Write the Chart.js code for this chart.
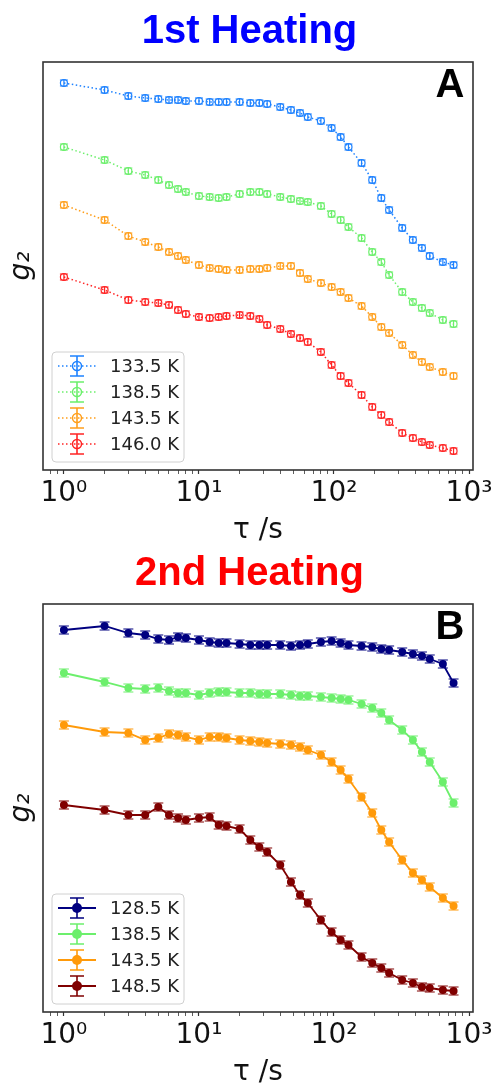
<!DOCTYPE html>
<html>
<head>
<meta charset="utf-8">
<script src="https://cdn.jsdelivr.net/npm/chart.js@4.4.1/dist/chart.umd.min.js"></script>
<style>
  html, body { margin: 0; padding: 0; background: #fff; }
  #wrap { width: 499px; height: 1084px; }
  canvas { display: block; }
</style>
</head>
<body>
<div id="wrap">
  <canvas id="chart-chauffe1" width="499" height="542"></canvas>
  <canvas id="chart-chauffe2" width="499" height="542"></canvas>
</div>
<script>
// Temps de corrélation tau (s), grille multi-tau
const tau = [1, 2, 3, 4, 5, 6, 7, 8, 10, 12, 14, 16, 20, 24, 28, 32, 40, 48, 56, 64,
  80, 96, 112, 128, 160, 192, 224, 256, 320, 384, 448, 512, 640, 768];

// Graduations de l'axe x
const xTickValues = [1, 10, 100, 1000];
const xTickLabels = ['10⁰', '10¹', '10²', '10³'];

// 1re chauffe : g2 (courbes décalées)
const labelsChauffe1 = ['133.5 K', '138.5 K', '143.5 K', '146.0 K'];
const couleursChauffe1 = ['#1e82ff', '#6cef6c', '#ff9f1c', '#ff2424'];
const g2_133_5 = [1.387, 1.380, 1.374, 1.372, 1.371, 1.370, 1.370, 1.369, 1.369, 1.368, 1.368, 1.368, 1.368, 1.367, 1.367, 1.366, 1.363, 1.360, 1.357, 1.353, 1.349, 1.342, 1.333, 1.323, 1.307, 1.290, 1.272, 1.260, 1.242, 1.230, 1.222, 1.214, 1.208, 1.205];
const g2_138_5a = [1.323, 1.310, 1.299, 1.295, 1.290, 1.285, 1.281, 1.278, 1.274, 1.273, 1.272, 1.273, 1.276, 1.278, 1.278, 1.276, 1.273, 1.271, 1.269, 1.268, 1.264, 1.256, 1.250, 1.243, 1.232, 1.218, 1.208, 1.195, 1.178, 1.168, 1.162, 1.157, 1.150, 1.146];
const g2_143_5a = [1.265, 1.250, 1.234, 1.228, 1.223, 1.218, 1.214, 1.210, 1.205, 1.202, 1.201, 1.200, 1.200, 1.201, 1.201, 1.202, 1.204, 1.204, 1.197, 1.191, 1.187, 1.183, 1.178, 1.172, 1.164, 1.153, 1.143, 1.137, 1.125, 1.115, 1.108, 1.103, 1.098, 1.094];
const g2_146_0 = [1.193, 1.180, 1.170, 1.168, 1.167, 1.165, 1.160, 1.156, 1.153, 1.152, 1.153, 1.154, 1.155, 1.154, 1.151, 1.145, 1.141, 1.136, 1.132, 1.128, 1.118, 1.105, 1.094, 1.087, 1.075, 1.063, 1.055, 1.048, 1.037, 1.032, 1.028, 1.025, 1.022, 1.019];
const errChauffe1 = [0.003, 0.003, 0.003, 0.003];

// 2e chauffe
const labelsChauffe2 = ['128.5 K', '138.5 K', '143.5 K', '148.5 K'];
const couleursChauffe2 = ['#000080', '#6cef6c', '#ff9a0a', '#800000'];
const g2_128_5 = [1.382, 1.386, 1.379, 1.377, 1.373, 1.372, 1.375, 1.374, 1.372, 1.370, 1.369, 1.369, 1.368, 1.367, 1.367, 1.367, 1.367, 1.366, 1.367, 1.368, 1.370, 1.371, 1.369, 1.367, 1.366, 1.365, 1.363, 1.362, 1.360, 1.358, 1.356, 1.353, 1.348, 1.329];
const g2_138_5b = [1.339, 1.330, 1.324, 1.323, 1.324, 1.321, 1.319, 1.319, 1.317, 1.319, 1.320, 1.320, 1.319, 1.319, 1.318, 1.318, 1.318, 1.317, 1.316, 1.316, 1.315, 1.314, 1.313, 1.312, 1.308, 1.304, 1.299, 1.292, 1.282, 1.272, 1.260, 1.250, 1.230, 1.209];
const g2_143_5b = [1.287, 1.280, 1.279, 1.272, 1.274, 1.278, 1.277, 1.275, 1.272, 1.275, 1.275, 1.274, 1.272, 1.271, 1.270, 1.269, 1.268, 1.267, 1.265, 1.262, 1.257, 1.250, 1.242, 1.233, 1.215, 1.199, 1.182, 1.170, 1.152, 1.139, 1.132, 1.125, 1.114, 1.106];
const g2_148_5 = [1.207, 1.202, 1.197, 1.197, 1.205, 1.197, 1.194, 1.192, 1.194, 1.195, 1.187, 1.186, 1.183, 1.172, 1.165, 1.160, 1.147, 1.130, 1.117, 1.109, 1.092, 1.080, 1.072, 1.067, 1.055, 1.049, 1.044, 1.039, 1.032, 1.029, 1.025, 1.024, 1.022, 1.021];
const errChauffe2 = [0.004, 0.004, 0.004, 0.004];

// Toutes les graduations log (majeures + mineures)
const xTicksAll = [];
[0.1, 1, 10, 100, 1000].forEach(dec => {
    for (let k = 1; k <= 9; k++) {
        const v = Math.round(k * dec * 100) / 100;
        if (v >= 0.72 && v <= 1070) xTicksAll.push(v);
    }
});

// Barres d'erreur verticales avec chapeaux
const barresErreur = {
    id: 'barresErreur',
    beforeDatasetsDraw(chart, args, o) {
        const { ctx, scales: { x, y } } = chart;
        ctx.save();
        chart.data.datasets.forEach((ds, i) => {
            const e = o.err[i];
            ctx.strokeStyle = ds.borderColor;
            ctx.lineWidth = o.width;
            ctx.setLineDash([]);
            ds.data.forEach(p => {
                const px = x.getPixelForValue(p.x);
                const yb = y.getPixelForValue(p.y - e);
                const yh = y.getPixelForValue(p.y + e);
                ctx.beginPath();
                ctx.moveTo(px, yb); ctx.lineTo(px, yh);
                ctx.moveTo(px - o.cap, yb); ctx.lineTo(px + o.cap, yb);
                ctx.moveTo(px - o.cap, yh); ctx.lineTo(px + o.cap, yh);
                ctx.stroke();
            });
        });
        ctx.restore();
    }
};

// Cadre, lettre du panneau et légende dans la zone du graphique
const habillage = {
    id: 'habillage',
    afterDraw(chart, args, o) {
        const { ctx, chartArea: a } = chart;
        ctx.save();
        ctx.strokeStyle = '#333';
        ctx.lineWidth = 1.6;
        ctx.strokeRect(a.left, a.top, a.width, a.height);

        ctx.fillStyle = '#000';
        ctx.font = 'bold 40px "Liberation Sans", Arial, sans-serif';
        ctx.textAlign = 'center';
        ctx.textBaseline = 'middle';
        ctx.fillText(o.lettre, a.right - 23, a.top + 24);

        // légende
        const w = 132, h = 110;
        const x0 = a.left + 9, y0 = a.bottom - 8 - h;
        ctx.beginPath();
        ctx.roundRect(x0, y0, w, h, 4);
        ctx.fillStyle = 'rgba(255,255,255,0.8)';
        ctx.fill();
        ctx.strokeStyle = '#d0d0d0';
        ctx.lineWidth = 1;
        ctx.stroke();

        chart.data.datasets.forEach((ds, i) => {
            const yy = y0 + 14 + i * 26;
            const cx = x0 + 25;
            ctx.strokeStyle = ds.borderColor;
            ctx.setLineDash(o.dash);
            ctx.lineWidth = o.ligne;
            ctx.beginPath();
            ctx.moveTo(x0 + 6, yy); ctx.lineTo(x0 + 44, yy);
            ctx.stroke();
            ctx.setLineDash([]);
            ctx.lineWidth = 1.6;
            ctx.beginPath();
            ctx.moveTo(cx, yy - 10); ctx.lineTo(cx, yy + 10);
            ctx.moveTo(cx - 7, yy - 10); ctx.lineTo(cx + 7, yy - 10);
            ctx.moveTo(cx - 7, yy + 10); ctx.lineTo(cx + 7, yy + 10);
            ctx.stroke();
            ctx.beginPath();
            ctx.arc(cx, yy, o.plein ? 5 : 4.5, 0, Math.PI * 2);
            if (o.plein) {
                ctx.fillStyle = ds.borderColor;
                ctx.fill();
            } else {
                ctx.lineWidth = 1.5;
                ctx.stroke();
            }
            ctx.fillStyle = '#222';
            ctx.font = '18px "DejaVu Sans", sans-serif';
            ctx.textAlign = 'left';
            ctx.textBaseline = 'middle';
            ctx.fillText(ds.label, x0 + 58, yy + 1);
        });
        ctx.restore();
    }
};

function creerGraphique(canvasId, titre, couleurTitre, labels, couleurs, series, err, style) {
    const datasets = series.map((vals, i) => ({
        label: labels[i],
        data: tau.map((t, k) => ({ x: t, y: vals[k] })),
        borderColor: couleurs[i],
        borderWidth: style.ligne,
        borderDash: style.dash,
        pointRadius: style.rayon,
        pointBorderWidth: style.plein ? 0 : 1.2,
        pointBorderColor: couleurs[i],
        pointBackgroundColor: style.plein ? couleurs[i] : 'rgba(0,0,0,0)',
        tension: 0,
        fill: false
    }));

    return new Chart(document.getElementById(canvasId), {
        type: 'line',
        data: { datasets },
        plugins: [barresErreur, habillage],
        options: {
            responsive: false,
            animation: false,
            layout: { padding: 0 },
            scales: {
                x: {
                    type: 'logarithmic',
                    min: 0.72,
                    max: 1070,
                    border: { display: false },
                    grid: {
                        drawOnChartArea: false,
                        drawTicks: true,
                        tickLength: 4,
                        tickColor: '#333',
                        tickWidth: (c) => (c.tick && c.tick.major ? 1.2 : 0.8)
                    },
                    afterBuildTicks(s) {
                        s.ticks = xTicksAll.map(v => ({ value: v, major: xTickValues.includes(v) }));
                    },
                    ticks: {
                        autoSkip: false,
                        maxRotation: 0,
                        padding: 3,
                        color: '#111',
                        font: { family: 'DejaVu Sans', size: 28 },
                        callback(v) {
                            const k = xTickValues.indexOf(v);
                            return k >= 0 ? xTickLabels[k] : '';
                        }
                    },
                    title: {
                        display: true,
                        text: 'τ /s',
                        color: '#111',
                        font: { family: 'DejaVu Sans', size: 28, lineHeight: 0.8 },
                        padding: { top: 0, bottom: 0 }
                    },
                    afterFit(s) { s.height = 72; }
                },
                y: {
                    type: 'linear',
                    min: 1.0,
                    max: 1.408,
                    border: { display: false },
                    grid: { display: false },
                    ticks: { display: false },
                    title: {
                        display: true,
                        text: 'g₂',
                        color: '#111',
                        font: { family: 'DejaVu Sans', size: 28, style: 'italic' },
                        padding: { top: 5, bottom: 0 }
                    },
                    afterFit(s) { s.width = 43; }
                },
                // marge droite vide, pour que le titre reste centré sur la figure
                marge: {
                    type: 'linear',
                    position: 'right',
                    min: 0,
                    max: 1,
                    border: { display: false },
                    grid: { display: false },
                    ticks: { display: false },
                    afterFit(s) { s.width = 26; }
                }
            },
            plugins: {
                legend: { display: false },
                tooltip: { enabled: false },
                title: {
                    display: true,
                    text: titre,
                    color: couleurTitre,
                    font: { family: 'Liberation Sans', size: 40, weight: 'bold', lineHeight: 1.2 },
                    padding: { top: 8, bottom: 6 }
                },
                barresErreur: { err, cap: style.cap, width: 1.2 },
                habillage: style
            }
        }
    });
}

creerGraphique('chart-chauffe1', '1st Heating', '#0000ff', labelsChauffe1, couleursChauffe1,
    [g2_133_5, g2_138_5a, g2_143_5a, g2_146_0], errChauffe1,
    { lettre: 'A', dash: [1.5, 2.5], ligne: 1.5, rayon: 3.5, plein: false, cap: 4 });

creerGraphique('chart-chauffe2', '2nd Heating', '#ff0000', labelsChauffe2, couleursChauffe2,
    [g2_128_5, g2_138_5b, g2_143_5b, g2_148_5], errChauffe2,
    { lettre: 'B', dash: [], ligne: 1.8, rayon: 4, plein: true, cap: 5 });
</script>
</body>
</html>
